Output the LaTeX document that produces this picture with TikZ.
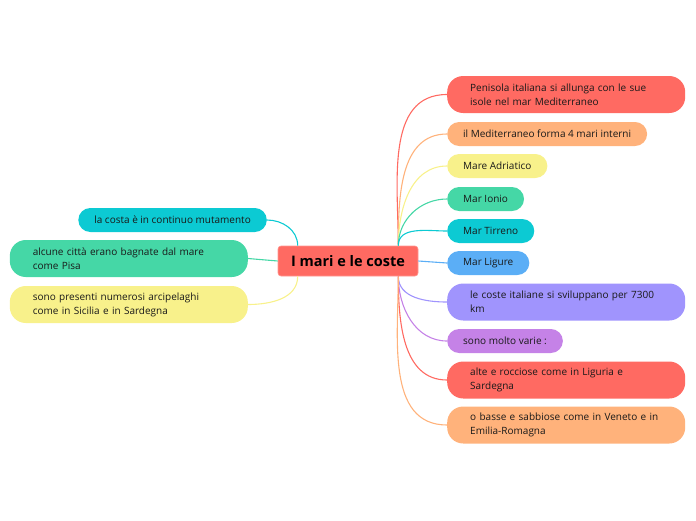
\documentclass[tikz,border=0pt]{standalone}
\usepackage{fontspec}
\setmainfont{Open Sans}
\definecolor{cRed}{HTML}{FF6A62}
\definecolor{cOrange}{HTML}{FFB27B}
\definecolor{cYellow}{HTML}{F8F18B}
\definecolor{cGreen}{HTML}{45D7A6}
\definecolor{cCyan}{HTML}{0CCAD3}
\definecolor{cBlue}{HTML}{5BAEF6}
\definecolor{cPurple}{HTML}{A094FD}
\definecolor{cViolet}{HTML}{C582E7}
\begin{document}
\begin{tikzpicture}[x=1pt,y=-1pt,
  pill/.style={rounded corners=12pt, inner xsep=16pt, inner ysep=0pt, minimum height=24pt, align=left,
     font=\fontsize{10}{14}\selectfont, text=black!90},
  pillR/.style={pill, anchor=west},
  pillL/.style={pill, anchor=east},
  wide/.style={rounded corners=16pt, inner xsep=23pt, minimum height=37pt, text width=192pt},
  link/.style={line width=1.1pt}
]
\useasboundingbox (0,0) rectangle (696,520);
\node[fill=cRed, draw=cRed!70!white, line width=0.6pt, rounded corners=3pt, minimum width=140pt, minimum height=30pt,
  font=\fontsize{14.5}{16}\selectfont\bfseries] (c) at (348,261) {I mari e le coste};

\node[pillR, wide, fill=cRed] (r1) at (447,94.5) {Penisola italiana si allunga con le sue\\isole nel mar Mediterraneo};
\node[pillR, fill=cOrange] (r2) at (447,134) {il Mediterraneo forma 4 mari interni};
\node[pillR, fill=cYellow] (r3) at (447,166) {Mare Adriatico};
\node[pillR, fill=cGreen] (r4) at (447,199) {Mar Ionio};
\node[pillR, fill=cCyan] (r5) at (447,231) {Mar Tirreno};
\node[pillR, fill=cBlue] (r6) at (447,263) {Mar Ligure};
\node[pillR, wide, fill=cPurple] (r7) at (447,302) {le coste italiane si sviluppano per 7300\\km};
\node[pillR, fill=cViolet] (r8) at (447,341) {sono molto varie :};
\node[pillR, wide, fill=cRed] (r9) at (447,380) {alte e rocciose come in Liguria e\\Sardegna};
\node[pillR, wide, fill=cOrange] (r10) at (447,425) {o basse e sabbiose come in Veneto e in\\Emilia-Romagna};

\node[pillL, fill=cCyan] (l1) at (267,220) {la costa è in continuo mutamento};
\node[pillL, wide, fill=cGreen] (l2) at (248,258.5) {alcune città erano bagnate dal mare\\come Pisa};
\node[pillL, wide, fill=cYellow] (l3) at (248,304.5) {sono presenti numerosi arcipelaghi\\come in Sicilia e in Sardegna};

\coordinate (ut) at ([xshift=-20pt]c.north east);
\coordinate (lt) at ([xshift=-20pt]c.south east);
\draw[link, cRed] (ut) to[out=90,in=180] (r1.west);
\draw[link, cOrange] (ut) to[out=90,in=180] (r2.west);
\draw[link, cYellow] (ut) to[out=90,in=180] (r3.west);
\draw[link, cGreen] (ut) to[out=90,in=180] (r4.west);
\draw[link, cCyan] (ut) to[out=90,in=180] (r5.west);
\draw[link, cBlue] (c.east) -- (r6.west);
\draw[link, cPurple] (lt) to[out=-90,in=180] (r7.west);
\draw[link, cViolet] (lt) to[out=-90,in=180] (r8.west);
\draw[link, cRed] (lt) to[out=-90,in=180] (r9.west);
\draw[link, cOrange] (lt) to[out=-90,in=180] (r10.west);

\draw[link, cCyan] ([xshift=20pt]c.north west) to[out=90,in=0] (l1.east);
\draw[link, cGreen] (c.west) -- (l2.east);
\draw[link, cYellow] ([xshift=20pt]c.south west) to[out=-90,in=0] (l3.east);
\end{tikzpicture}
\end{document}
